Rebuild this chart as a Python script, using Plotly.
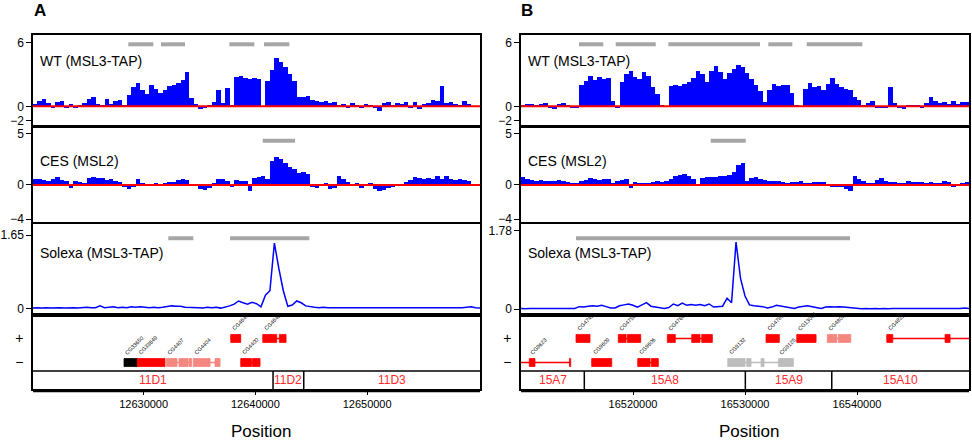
import plotly.graph_objects as go

FONT = "Liberation Sans, Arial, Helvetica, sans-serif"
W, H = 972, 441
BLUE = "#0000ff"
RED = "#ff0000"
GREY_BAR = "#a6a6a6"
GENE_COLORS = {"red": "#ff0000", "salmon": "#f4877f", "black": "#000000", "grey": "#bdbdbd"}

BIN = 400
SPAN = 40000
A_START = 12620100
B_START = 16510000

# ---------------- data ----------------
A_WT = [0.2, 0.5, 0.7, 0.3, -0.2, 0.4, 0.5, -0.3, 0.2, -0.2, 0.1, 0.3, 0.7, 0.9, 0.2, 0.1, 0.7, 0.2, 0.5, 0.6, 0.1,
        1.1, 1.8, 2.2, 1.5, 1.2, 2.0, 1.6, 1.3, 1.5, 1.9, 2.0, 2.2, 2.5, 3.2, 0.8, 0.2, -0.4, -0.3, 0.1, 0.4,
        1.5, 0.3, 1.7, 0.1, 2.8, 2.9, 2.7, 2.6, 2.7, 2.6, 0.0, 2.4, 3.4, 4.5, 4.2, 3.7, 3.0, 2.4, 0.9, 0.9,
        1.0, 0.6, 0.5, 0.4, 0.5, 0.3, 0.4, 0.1, 0.2, -0.2, 0.3, 0.1, -0.2, 0.2, 0.1, -0.3, -0.7, 0.3, 0.4, 0.1,
        0.3, 0.2, 0.4, -0.2, 0.4, -0.4, 0.2, 0.3, 0.6, 0.5, 1.9, 0.3, 0.4, 0.2, 0.1, 0.5, 0.2]
A_CES = [0.6, 0.6, 0.5, 0.4, 0.6, 0.8, 0.5, 0.4, -0.3, 0.4, 0.3, 0.2, 0.7, 0.8, 0.7, 0.7, 0.5, 0.6, 0.4, 0.3, -0.2,
         -0.4, -0.2, 0.6, 0.2, 0.1, 0.1, 0.2, 0.1, 0.2, 0.3, 0.3, 0.5, 0.6, 0.5, 0.1, 0.1, -0.4, -0.5, -0.3, 0.2,
         0.6, 0.6, 0.4, -0.2, 0.5, 0.4, 0.4, -0.6, 0.7, 0.8, 0.9, 0.6, 2.4, 2.8, 2.6, 2.2, 1.8, 1.6, 1.2, 1.3,
         1.1, -0.2, -0.3, 0.1, 0.2, -0.4, -0.3, 0.9, 0.6, 0.3, 0.1, 0.2, -0.3, 0.1, 0.2, -0.4, -0.7, -0.5, -0.3, -0.2,
         0.0, 0.1, 0.3, 0.5, 0.8, 0.7, 0.6, 0.7, 0.6, 0.9, 0.6, 0.9, 0.6, 0.5, 0.6, 0.5, 0.4]
A_SOL = [0.01, 0.02, 0.01, 0.02, 0.01, 0.02, 0.02, 0.01, 0.02, 0.02, 0.01, 0.02, 0.03, 0.02, 0.02,
         0.06, 0.02, 0.03, 0.04, 0.02, 0.03, 0.02, 0.04, 0.03, 0.04, 0.03, 0.02, 0.03, 0.02, 0.03,
         0.05, 0.06, 0.05, 0.05, 0.03, 0.03, 0.02, 0.02, 0.01, 0.03, 0.02, 0.03, 0.01, 0.03, 0.06,
         0.10, 0.17, 0.13, 0.10, 0.14, 0.11, 0.04, 0.30, 0.40, 1.47, 0.90, 0.40, 0.05, 0.08, 0.17,
         0.13, 0.06, 0.04, 0.03, 0.02, 0.03, 0.02, 0.02, 0.01, 0.02, 0.02, 0.01, 0.02, 0.02, 0.01,
         0.02, 0.01, 0.02, 0.02, 0.01, 0.02, 0.02, 0.01, 0.02, 0.02, 0.01, 0.02, 0.02, 0.01, 0.02,
         0.02, 0.01, 0.02, 0.02, 0.01, 0.02, 0.02, 0.03, 0.04, 0.02, 0.01]
B_WT = [0.1, 0.2, 0.2, 0.1, 0.2, 0.3, -0.3, -0.4, 0.2, 0.3, 0.1, -0.2, -0.1, 2.0, 2.4, 2.9, 2.5, 2.8, 2.6, 2.7, 0.5,
        -0.2, 2.3, 3.0, 3.3, 2.8, 2.6, 3.2, 2.9, 1.8, 1.2, 0.1, 0.0, 1.9, 2.0, 1.9, 2.1, 2.3, 2.7, 3.3, 3.0,
        2.3, 3.3, 3.8, 3.2, 2.6, 3.1, 3.5, 3.9, 3.7, 3.1, 2.6, 2.0, 1.4, 0.4, 1.5, 2.1, 1.9, 2.0, 2.0, 1.3,
        0.1, 0.0, 1.6, 2.2, 1.8, 1.9, 1.5, 2.1, 2.7, 2.1, 1.8, 1.6, 1.5, 0.9, 0.6, 0.1, 0.3, 0.5, -0.2, -0.2,
        -0.2, 1.8, 0.3, -0.2, -0.4, 0.1, 0.1, 0.1, -0.1, 0.3, 0.9, 0.5, 0.3, 0.4, 0.2, 0.5, 0.2, 0.4, 0.4, 0.3]
B_CES = [0.8, 0.6, 0.5, 0.4, 0.5, 0.4, 0.4, 0.4, 0.5, 0.4, 0.3, 0.2, 0.2, 0.4, 0.5, 0.7, 0.6, 0.5, 0.6, 0.6, 0.2,
         0.4, 0.5, 0.6, -0.3, 0.3, 0.2, 0.2, 0.2, 0.3, 0.4, 0.3, 0.4, 0.6, 0.9, 1.0, 1.1, 0.9, 0.6, 0.1, 0.7,
         0.8, 0.8, 0.8, 0.9, 0.9, 1.0, 1.3, 2.0, 2.2, 0.4, 0.7, 0.8, 0.6, 0.5, 0.4, 0.4, 0.4, 0.3, 0.2, 0.3,
         0.3, 0.4, 0.2, 0.2, 0.3, 0.3, 0.3, 0.1, -0.1, -0.2, -0.2, -0.4, -0.6, 0.9, 0.6, 0.4, 0.2, 0.2, 0.5, 0.7,
         0.4, 0.3, 0.3, 0.2, 0.2, 0.4, 0.3, 0.3, 0.3, 0.2, 0.3, 0.2, 0.2, 0.4, 0.3, -0.1, 0.1, 0.2, 0.3, 0.1]
B_SOL = [0.02, 0.01, 0.02, 0.02, 0.01, 0.02, 0.01, 0.02, 0.02, 0.01, 0.02, 0.02,
         0.02, 0.06, 0.05, 0.07, 0.08, 0.07, 0.09, 0.06, 0.03,
         0.03, 0.08, 0.10, 0.12, 0.09, 0.05, 0.10, 0.15, 0.07, 0.05,
         0.04, 0.02, 0.04, 0.12, 0.08, 0.14, 0.09, 0.11, 0.09, 0.11,
         0.08, 0.12, 0.05, 0.06, 0.07, 0.25, 0.15, 1.52, 0.70, 0.30,
         0.10, 0.08, 0.07, 0.06, 0.03, 0.05, 0.09, 0.07, 0.05, 0.04,
         0.02, 0.05, 0.07, 0.08, 0.06, 0.04, 0.02, 0.05, 0.06, 0.05,
         0.06, 0.05, 0.04, 0.04, 0.03, 0.01, 0.02, 0.01, 0.02, 0.01,
         0.02, 0.01, 0.02, 0.02, 0.01, 0.02, 0.01, 0.02, 0.02, 0.01,
         0.02, 0.01, 0.02, 0.01, 0.02, 0.02, 0.01, 0.02, 0.03, 0.02]

# significant regions (grey bars above the tracks)
A_REG_WT = [(12628630, 12630867), (12631556, 12633704), (12637669, 12639906), (12640775, 12643039)]
A_REG_CES = [(12640658, 12643549)]
A_REG_SOL = [(12632209, 12634447), (12637732, 12644829)]
B_REG_WT = [(16515179, 16517349), (16518457, 16522029), (16523154, 16531343), (16532084, 16534227),
            (16535513, 16540478)]
B_REG_CES = [(16526940, 16530066)]
B_REG_SOL = [(16514912, 16539380)]

# genes: name, strand, colour, transcript span, exons
A_GENES = [
    ("CG33650", "-", "black", (12628245, 12629435), [(12628245, 12629435)]),
    ("CG33649", "-", "red", (12629435, 12631914), [(12629435, 12631914)]),
    ("CG4407", "-", "salmon", (12632048, 12634304), [(12632048, 12632988), (12633167, 12633973), (12634062, 12634304)]),
    ("CG4404", "-", "salmon", (12634447, 12636837), [(12634447, 12635942), (12636389, 12636837)]),
    ("CG4400", "-", "red", (12638689, 12640417), [(12638689, 12639656), (12639745, 12640417)]),
    ("CG4647", "+", "red", (12637794, 12638689), [(12637794, 12638689)]),
    ("CG4645", "+", "red", (12640658, 12642744), [(12640658, 12641911), (12642144, 12642744)]),
]
B_GENES = [
    ("CG9623", "-", "red", (16509000, 16514438), [(16510741, 16511250), (16514331, 16514438)]),
    ("CG4742", "+", "red", (16514912, 16516162), [(16514912, 16516162)]),
    ("CG9609", "-", "red", (16516313, 16518100), [(16516313, 16518100)]),
    ("CG4756", "+", "red", (16518689, 16520689), [(16518689, 16519377), (16519493, 16520689)]),
    ("CG9606", "-", "red", (16520421, 16522261), [(16520421, 16521520), (16521636, 16522261)]),
    ("CG4768", "+", "red", (16523065, 16527083), [(16523065, 16523779), (16525244, 16525985), (16526137, 16527083)]),
    ("CG9132", "-", "grey", (16528458, 16531700), [(16528458, 16530003), (16530155, 16530539), (16531432, 16531700)]),
    ("CG9125", "-", "grey", (16531700, 16534316), [(16532977, 16534316)]),
    ("CG4789", "+", "red", (16531879, 16533066), [(16531879, 16533066)]),
    ("CG13005", "+", "red", (16534620, 16536344), [(16534620, 16536344)]),
    ("CG4805", "+", "salmon", (16537353, 16539442), [(16537353, 16538192), (16538335, 16539442)]),
    ("CG4829", "+", "red", (16542657, 16551000), [(16542657, 16543193), (16547863, 16548310)]),
]

# cytological bands
A_BANDS = [("11D1", 12600000, 12641580), ("11D2", 12641580, 12644328), ("11D3", 12644328, 12670000)]
B_BANDS = [("15A7", 16500000, 16515653), ("15A8", 16515653, 16530030), ("15A9", 16530030, 16537746),
           ("15A10", 16537746, 16560000)]

A_XTICKS = [12630000, 12640000, 12650000]
B_XTICKS = [16520000, 16530000, 16540000]

TRACK_LABELS = ["WT (MSL3-TAP)", "CES (MSL2)", "Solexa (MSL3-TAP)"]

# ---------------- geometry (page pixels) ----------------
WT_NEG = 0.68    # the negative part of the axis is drawn compressed in the original
CES_NEG = 0.83
TRACK_PX = [(35, 124.5), (127.5, 221.5), (224, 313), (316.5, 389)]
PANEL_PX = [(33, 480), (521, 969)]
PLUS_Y, MINUS_Y = 2.79, 1.46
EXON_H = 0.22


def px2x(px):
    return px / W


def py2y(py):
    return 1 - py / H


def ydom(t):
    top, bot = TRACK_PX[t]
    return [py2y(bot), py2y(top)]


def xdom(p):
    l, r = PANEL_PX[p]
    return [px2x(l), px2x(r)]


def squash(vals, k):
    return [v if v >= 0 else v * k for v in vals]


panels = [
    dict(start=A_START, wt=A_WT, ces=A_CES, sol=A_SOL, sol_tick=1.65, sol_range=[-0.10, 1.90],
         regs=[A_REG_WT, A_REG_CES, A_REG_SOL], genes=A_GENES, bands=A_BANDS, xticks=A_XTICKS, letter="A"),
    dict(start=B_START, wt=B_WT, ces=B_CES, sol=B_SOL, sol_tick=1.78, sol_range=[-0.084, 1.93],
         regs=[B_REG_WT, B_REG_CES, B_REG_SOL], genes=B_GENES, bands=B_BANDS, xticks=B_XTICKS, letter="B"),
]

fig = go.Figure()
shapes = []
annotations = []
layout = {}
REG_FRAC = [0.896, 0.86, 0.84]
LABEL_FRAC = [0.71, 0.647, 0.67]

for p, P in enumerate(panels):
    start = P["start"]
    end = start + SPAN
    for t in range(4):
        n = p * 4 + t + 1
        xn = "x" if n == 1 else f"x{n}"
        yn = "y" if n == 1 else f"y{n}"
        xkey = "xaxis" if n == 1 else f"xaxis{n}"
        ykey = "yaxis" if n == 1 else f"yaxis{n}"
        xa = dict(domain=xdom(p), anchor=yn, range=[start, end], showline=True, mirror=True, automargin=False,
                  linecolor="black", linewidth=1.5, showgrid=False, zeroline=False, fixedrange=True)
        if t == 3:
            xa.update(ticks="outside", ticklen=4, tickwidth=1, tickcolor="black", tickvals=P["xticks"],
                      tickformat="d", tickfont=dict(family=FONT, size=11, color="black"), showticklabels=True)
        else:
            xa.update(showticklabels=False, ticks="")
        if n != 1 and n != 5:
            xa["matches"] = "x" if p == 0 else "x5"
        ya = dict(domain=ydom(t), anchor=xn, showline=True, mirror=True, linecolor="black", linewidth=1.5,
                  showgrid=False, zeroline=False, fixedrange=True, ticks="outside", ticklen=5, tickwidth=1,
                  automargin=False, tickcolor="black", tickfont=dict(family=FONT, size=12, color="black"))
        if t == 0:
            ya.update(range=[-1.71, 6.71], tickvals=[6, 0, -2 * WT_NEG], ticktext=["6", "0", "\u22122"])
            fig.add_bar(x=[start + BIN * i + BIN / 2 for i in range(len(P["wt"]))], y=squash(P["wt"], WT_NEG),
                        width=BIN, marker=dict(color=BLUE, line=dict(width=0)), xaxis=xn, yaxis=yn,
                        hoverinfo="skip")
        elif t == 1:
            ya.update(range=[-3.56, 5.60], tickvals=[5, 0, -4 * CES_NEG], ticktext=["5", "0", "\u22124"])
            fig.add_bar(x=[start + BIN * i + BIN / 2 for i in range(len(P["ces"]))], y=squash(P["ces"], CES_NEG),
                        width=BIN, marker=dict(color=BLUE, line=dict(width=0)), xaxis=xn, yaxis=yn,
                        hoverinfo="skip")
        elif t == 2:
            ya.update(range=P["sol_range"], tickvals=[P["sol_tick"], 0], ticktext=[f"{P['sol_tick']:.2f}", "0"])
            fig.add_scatter(x=[start + BIN * i for i in range(len(P["sol"]))], y=P["sol"], mode="lines",
                            line=dict(color=BLUE, width=1.5), xaxis=xn, yaxis=yn, hoverinfo="skip")
        else:
            ya.update(range=[0, 4], tickvals=[PLUS_Y, MINUS_Y], ticktext=["+", "\u2212"], tickcolor="rgba(0,0,0,0)",
                      tickfont=dict(family=FONT, size=14, color="black"))
            fig.add_scatter(x=[start], y=[0], mode="markers", marker=dict(opacity=0), xaxis=xn, yaxis=yn,
                            hoverinfo="skip")
        if t < 2:
            fig.add_scatter(x=[start, end], y=[0, 0], mode="lines", line=dict(color=RED, width=2),
                            xaxis=xn, yaxis=yn, hoverinfo="skip")
        layout[xkey] = xa
        layout[ykey] = ya

        if t < 3:
            for (r0, r1) in P["regs"][t]:
                shapes.append(dict(type="line", xref=xn, yref=f"{yn} domain", x0=r0, x1=r1,
                                   y0=REG_FRAC[t], y1=REG_FRAC[t], line=dict(color=GREY_BAR, width=4)))
            annotations.append(dict(text=TRACK_LABELS[t], xref=f"{xn} domain", yref=f"{yn} domain",
                                    x=0.012, y=LABEL_FRAC[t], xanchor="left", yanchor="middle", showarrow=False,
                                    font=dict(family=FONT, size=14, color="black")))
        else:
            # genes
            for name, strand, col, span, exons in P["genes"]:
                c = GENE_COLORS[col]
                yy = PLUS_Y if strand == "+" else MINUS_Y
                s0, s1 = max(span[0], start), min(span[1], end)
                shapes.append(dict(type="line", xref=xn, yref=yn, x0=s0, x1=s1, y0=yy, y1=yy,
                                   line=dict(color=c, width=1.5)))
                for e0, e1 in exons:
                    shapes.append(dict(type="rect", xref=xn, yref=yn, x0=e0, x1=e1, y0=yy - EXON_H,
                                       y1=yy + EXON_H, fillcolor=c, line=dict(color=c, width=0.8)))
                annotations.append(dict(text=name, xref=xn, yref=yn, x=exons[0][0], y=yy + EXON_H + 0.02,
                                        xanchor="left", yanchor="bottom", textangle=-45, xshift=-3,
                                        showarrow=False, font=dict(family=FONT, size=5.5, color="black")))
            # bands
            shapes.append(dict(type="line", xref=f"{xn} domain", yref=yn, x0=0, x1=1, y0=1, y1=1,
                               line=dict(color="black", width=1.5)))
            for bname, b0, b1 in P["bands"]:
                v0, v1 = max(b0, start), min(b1, end)
                if b0 > start:
                    shapes.append(dict(type="line", xref=xn, yref=yn, x0=b0, x1=b0, y0=0, y1=1,
                                       line=dict(color="black", width=1.5)))
                annotations.append(dict(text=bname, xref=xn, yref=yn, x=(v0 + v1) / 2, y=0.48,
                                        xanchor="center", yanchor="middle", showarrow=False,
                                        font=dict(family=FONT, size=12, color="#ff2a2a")))
            # second (axis) line under the box
            shapes.append(dict(type="line", xref=f"{xn} domain", yref=f"{yn} domain", x0=0, x1=1,
                               y0=-0.035, y1=-0.035, line=dict(color="black", width=1.5)))
            annotations.append(dict(text="Position", xref=f"{xn} domain", yref="paper", x=0.51,
                                    y=py2y(431), xanchor="center", yanchor="middle", showarrow=False,
                                    font=dict(family=FONT, size=17, color="black")))
    lx = [40, 527][p]
    annotations.append(dict(text=f"<b>{P['letter']}</b>", xref="paper", yref="paper", x=px2x(lx), y=py2y(11),
                            xanchor="center", yanchor="middle", showarrow=False,
                            font=dict(family=FONT, size=17, color="black")))

fig.update_layout(**layout)
fig.update_layout(width=W, height=H, margin=dict(l=0, r=0, t=0, b=0, autoexpand=False), paper_bgcolor="white",
                  plot_bgcolor="white", showlegend=False, bargap=0, shapes=shapes, annotations=annotations,
                  font=dict(family=FONT, color="black"))
fig.write_html("out.html", config={"displayModeBar": False},
               post_script="document.body.style.margin='0';document.body.style.overflow='hidden';")
